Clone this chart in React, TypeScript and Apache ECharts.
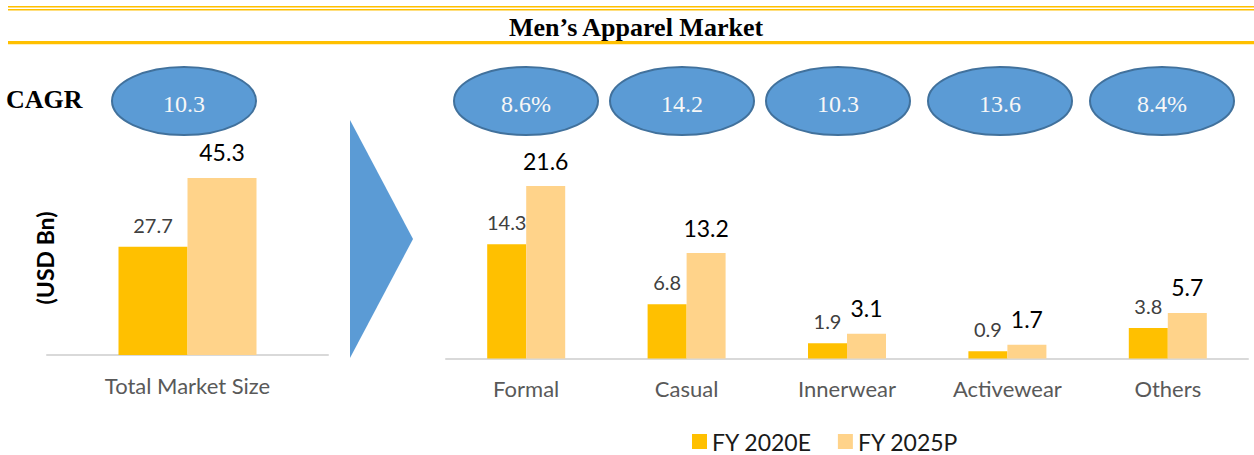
import { useEffect, useRef } from "react";
import * as echarts from "echarts";

const SERIES_NAMES = ["FY 2020E", "FY 2025P"];
const TOTAL_CATEGORY = ["Total Market Size"];
const TOTAL_2020 = [27.7];
const TOTAL_2025 = [45.3];
const SEGMENTS = ["Formal", "Casual", "Innerwear", "Activewear", "Others"];
const SEG_2020 = [14.3, 6.8, 1.9, 0.9, 3.8];
const SEG_2025 = [21.6, 13.2, 3.1, 1.7, 5.7];
const CAGR_TOTAL = ["10.3"];
const CAGR_SEGMENTS = ["8.6%", "14.2", "10.3", "13.6", "8.4%"];
const TITLE = "Men\u2019s Apparel Market";
const CAGR_LABEL = "CAGR";
const UNIT_LABEL = "(USD Bn)";

// layout constants
const ELLIPSE_X = [184, 526, 682, 838, 1000, 1162];
const ELLIPSE_Y = 101;
const SANS = "Lato, 'Noto Sans', sans-serif";
const SERIF = "'Liberation Serif', 'DejaVu Serif', serif";
const GOLD = "#FFC000";
const LIGHT = "#FFD38A";
const BLUE = "#5B9BD5";
const BLUE_EDGE = "#41719C";

export default function App() {
  const ref = useRef<HTMLDivElement>(null);
  useEffect(() => {
    document.body.style.margin = "0";
    if (!ref.current) return;
    const chart = echarts.init(ref.current, null, { renderer: "svg" });

    const lblSmall = {
      show: true,
      position: "top",
      distance: 12,
      color: "#404040",
      fontSize: 20,
      fontFamily: SANS,
    };
    const lblBig = {
      show: true,
      position: "top",
      distance: 14,
      color: "#000000",
      fontSize: 23,
      fontFamily: SANS,
    };
    const axisLabel = { color: "#595959", fontSize: 22, fontFamily: SANS, margin: 19 };
    const axisLine = { lineStyle: { color: "#D9D9D9", width: 2 } };

    const allCagr = CAGR_TOTAL.concat(CAGR_SEGMENTS);
    const ellipses: any[] = [];
    allCagr.forEach((t, i) => {
      ellipses.push({
        type: "ellipse",
        shape: { cx: ELLIPSE_X[i], cy: ELLIPSE_Y, rx: 72, ry: 34 },
        style: { fill: BLUE, stroke: BLUE_EDGE, lineWidth: 2 },
      });
      ellipses.push({
        type: "text",
        x: ELLIPSE_X[i],
        y: ELLIPSE_Y + 3,
        style: {
          text: t,
          fill: "#F7F7F7",
          font: `24px ${SERIF}`,
          align: "center",
          verticalAlign: "middle",
        },
      });
    });

    chart.setOption({
      animation: false,
      backgroundColor: "#ffffff",
      grid: [
        { left: 47, top: 159.5, width: 281, height: 195.5 },
        { left: 446, top: 159, width: 802, height: 199.4 },
      ],
      xAxis: [
        {
          gridIndex: 0,
          type: "category",
          data: TOTAL_CATEGORY,
          axisLine,
          axisTick: { show: false },
          axisLabel,
        },
        {
          gridIndex: 1,
          type: "category",
          data: SEGMENTS,
          axisLine,
          axisTick: { show: false },
          axisLabel,
        },
      ],
      yAxis: [
        { gridIndex: 0, type: "value", min: 0, max: 50, show: false, splitLine: { show: false } },
        { gridIndex: 1, type: "value", min: 0, max: 25, show: false, splitLine: { show: false } },
      ],
      legend: {
        data: SERIES_NAMES,
        left: 687,
        top: 425,
        icon: "rect",
        itemWidth: 15,
        itemHeight: 15,
        itemGap: 26,
        textStyle: { fontSize: 23, color: "#1a1a1a", fontFamily: SANS },
      },
      series: [
        {
          type: "bar",
          name: SERIES_NAMES[0],
          xAxisIndex: 0,
          yAxisIndex: 0,
          data: TOTAL_2020,
          barWidth: 69,
          barGap: "0%",
          itemStyle: { color: GOLD },
          label: lblSmall,
        },
        {
          type: "bar",
          name: SERIES_NAMES[1],
          xAxisIndex: 0,
          yAxisIndex: 0,
          data: TOTAL_2025,
          barWidth: 69,
          barGap: "0%",
          itemStyle: { color: LIGHT },
          label: lblBig,
        },
        {
          type: "bar",
          name: SERIES_NAMES[0],
          xAxisIndex: 1,
          yAxisIndex: 1,
          data: SEG_2020,
          barWidth: 39,
          barGap: "0%",
          itemStyle: { color: GOLD },
          label: lblSmall,
        },
        {
          type: "bar",
          name: SERIES_NAMES[1],
          xAxisIndex: 1,
          yAxisIndex: 1,
          data: SEG_2025,
          barWidth: 39,
          barGap: "0%",
          itemStyle: { color: LIGHT },
          label: lblBig,
        },
      ],
      graphic: [
        { type: "line", shape: { x1: 8, y1: 6.7, x2: 1254, y2: 6.7 }, style: { stroke: GOLD, lineWidth: 1.5 } },
        { type: "line", shape: { x1: 8, y1: 9.8, x2: 1254, y2: 9.8 }, style: { stroke: GOLD, lineWidth: 1.5 } },
        { type: "line", shape: { x1: 8, y1: 42.7, x2: 1254, y2: 42.7 }, style: { stroke: GOLD, lineWidth: 3.3 } },
        {
          type: "text",
          x: 636,
          y: 27.5,
          style: { text: TITLE, font: `bold 26px ${SERIF}`, fill: "#000", align: "center", verticalAlign: "middle" },
        },
        {
          type: "text",
          x: 6,
          y: 99,
          style: { text: CAGR_LABEL, font: `bold 26px ${SERIF}`, fill: "#000", align: "left", verticalAlign: "middle" },
        },
        ...ellipses,
        {
          type: "polygon",
          shape: { points: [[350, 120], [413, 239], [350, 358]] },
          style: { fill: BLUE },
        },
        {
          type: "text",
          x: 45,
          y: 258,
          rotation: Math.PI / 2,
          style: { text: UNIT_LABEL, font: `bold 23px ${SANS}`, fill: "#000", align: "center", verticalAlign: "middle" },
        },
      ],
    });
    return () => chart.dispose();
  }, []);
  return <div ref={ref} style={{ width: 1254, height: 455 }} />;
}
